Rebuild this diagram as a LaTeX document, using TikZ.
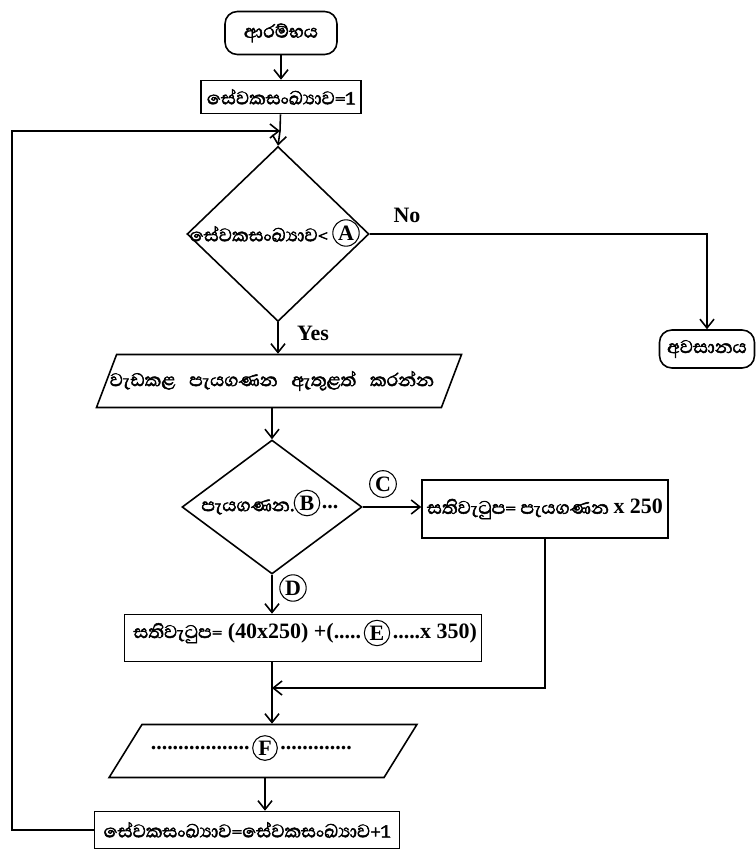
\documentclass[tikz,border=0pt]{standalone}
\usepackage{fontspec}
\setmainfont{Liberation Serif}
\newfontfamily\sinhala[Script=Sinhala,AutoFakeBold=2.2,Scale=1.06]{Abhaya Libre}
\usetikzlibrary{shapes.geometric,arrows.meta}

\begin{document}
\begin{tikzpicture}[x=0.02cm,y=-0.02cm,line width=0.9pt,
  >={Straight Barb[length=5pt,width=8pt]},
  every node/.style={font=\fontsize{12.5}{14}\selectfont\bfseries},
  term/.style={draw,rounded corners=7pt,inner sep=0pt},
  box/.style={draw,inner sep=0pt},
  io/.style={draw,transform shape,inner sep=0pt},
  dec/.style={draw,diamond,inner sep=0pt},
  tag/.style={circle,draw,inner sep=1pt,line width=0.6pt}]
  \useasboundingbox (0,0) rectangle (755,851);

  % boxes down the middle
  \node[term,minimum width=2.24cm,minimum height=0.86cm] (start) at (281,33) {\sinhala ආරම්භය};
  \node[box,minimum width=3.2cm,minimum height=0.66cm] (r1) at (281,97) {\sinhala සේවකසංඛ්‍යාව=1};
  \coordinate (j1) at (280,131);
  \node[dec,minimum width=3.64cm,minimum height=3.5cm] (d1) at (278,234) {};
  \node (d1t) at (259,234) {\sinhala සේවකසංඛ්‍යාව<};
  \node[tag] (cA) at (346,233) {A};
  \node[term,minimum width=1.9cm,minimum height=0.76cm] (end) at (707,349) {\sinhala අවසානය};
  \begin{scope}[shift={(279,381)},xslant=0.38]
    \node[io,minimum width=6.9cm,minimum height=1.06cm] (p1) at (0,0) {};
  \end{scope}
  \node (p1t) at (272,381) {\sinhala වැඩකළ\hspace{0.4em} පැයගණන\hspace{0.4em} ඇතුළත්\hspace{0.4em} කරන්න};
  \node[dec,minimum width=3.6cm,minimum height=2.68cm] (d2) at (272,507) {};
  \node (d2t) at (248,507) {\sinhala පැයගණන.};
  \node[tag] (cB) at (307,503) {B};
  \node (d2d) at (330,507) {...};
  \node[box,minimum width=4.92cm,minimum height=1.16cm] (rC) at (545,509) {\sinhala සතිවැටුප= පැයගණන \rmfamily x 250};
  \node[box,minimum width=7.14cm,minimum height=0.94cm] (rD) at (303,638) {};
  \node[tag] (cE) at (377,633) {E};
  \node[anchor=east,inner xsep=1pt] (rDl) at (cE.west) {\sinhala සතිවැටුප=\rmfamily\ (40x250) +(.....};
  \node[anchor=west,inner xsep=1pt] (rDr) at (cE.east) {.....x 350)};
  \coordinate (m) at (272,688);
  \begin{scope}[shift={(263,751)},xslant=0.62]
    \node[io,minimum width=5.5cm,minimum height=1.06cm] (pF) at (0,0) {};
  \end{scope}
  \node[tag] (cF) at (265,748) {F};
  \node[anchor=east,inner xsep=1pt] (pFl) at (cF.west) {..................};
  \node[anchor=west,inner xsep=1pt] (pFr) at (cF.east) {.............};
  \node[box,minimum width=6.1cm,minimum height=0.74cm] (rL) at (247,830) {\sinhala සේවකසංඛ්‍යාව=සේවකසංඛ්‍යාව+1};

  % labels on the branches
  \node (no) at (407,215) {No};
  \node (yes) at (313,333) {Yes};
  \node[tag] (cC) at (383,484) {C};
  \node[tag] (cD) at (293,588) {D};

  % connectors
  \draw[->] (start) -- (start |- r1.north);
  \draw (r1) -- (j1);
  \draw[->] (j1) -- (d1.north);
  \draw[->] (d1.east) -| (end.north);
  \draw[->] (d1.south) -- (d1.south |- p1.north);
  \draw[->] (d2.north |- p1.south) -- (d2.north);
  \draw[->] (d2.east) -- (d2.east -| rC.west);
  \draw[->] (d2.south) -- (d2.south |- rD.north);
  \draw[->] (rC.south) |- (m);
  \draw[->] (m |- rD.south) -- (m |- pF.north);
  \draw[->] (cF |- pF.south) -- (cF |- rL.north);
  \draw[->] (rL.west) -- (12,830) |- (j1);
\end{tikzpicture}
\end{document}
